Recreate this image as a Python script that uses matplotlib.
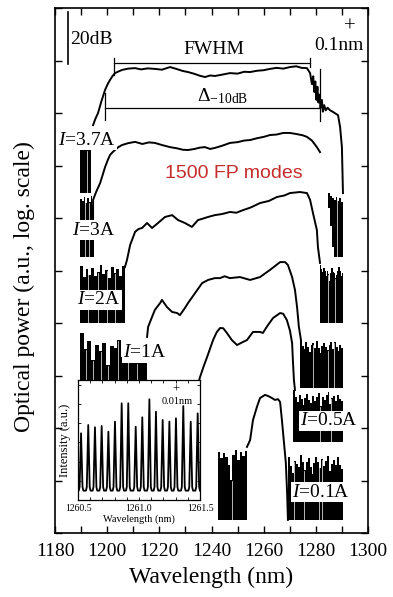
import numpy as np
import matplotlib
matplotlib.use("Agg")
import matplotlib.pyplot as plt
from matplotlib.ticker import MultipleLocator, FormatStrFormatter

plt.rcParams['font.family'] = ['Liberation Serif', 'DejaVu Serif']
plt.rcParams['mathtext.fontset'] = 'custom'
plt.rcParams['mathtext.rm'] = 'Liberation Serif'
plt.rcParams['mathtext.it'] = 'Liberation Serif:italic'

# ---------------- spectra: wavelength (nm) / offset power (dB) ----------------
wl_37 = [1194.6, 1195.5, 1196.5, 1197.8, 1199.2, 1200.2, 1201.1, 1202.0, 1203.0, 1204.3,
         1205.7, 1208.0, 1210.7, 1213.0, 1215.5, 1218.3, 1221.0, 1224.1, 1226.5, 1229.0,
         1231.0, 1233.5, 1235.5, 1237.5, 1239.5, 1241.3, 1244.0, 1247.1, 1250.0, 1252.5,
         1254.8, 1257.5, 1260.0, 1262.4, 1265.0, 1267.5, 1270.1, 1272.5, 1274.5, 1276.6,
         1277.8, 1278.5, 1279.0, 1279.4, 1279.8, 1280.2, 1280.6, 1281.0, 1281.4, 1281.8,
         1282.3, 1282.7, 1283.2, 1283.8, 1284.5, 1285.5, 1286.6, 1287.5, 1288.5, 1289.3,
         1290.0, 1290.4]
p_37 = [155.4, 157.8, 160.0, 164.5, 168.8, 171.0, 172.6, 174.0, 175.2, 175.8,
        176.4, 176.9, 177.1, 176.6, 177.0, 176.8, 176.5, 177.5, 176.8, 176.0,
        175.6, 174.9, 174.2, 173.7, 174.3, 174.1, 174.6, 175.2, 175.0, 175.7,
        175.6, 176.1, 176.3, 176.8, 177.2, 176.9, 177.5, 177.8, 177.2, 177.1,
        175.2, 171.0, 174.0, 168.0, 172.0, 165.0, 170.0, 164.0, 167.0, 162.0,
        165.0, 160.5, 163.0, 161.0, 162.0, 161.0, 160.4, 159.8, 159.2, 154.7,
        147.0, 129.5]

wl_3 = [1194.6, 1194.6, 1195.8, 1197.3, 1198.3, 1199.2, 1200.2, 1201.1, 1202.0, 1203.0,
        1204.3, 1205.7, 1208.0, 1210.7, 1213.5, 1216.0, 1218.3, 1221.0, 1224.1, 1227.0,
        1229.0, 1231.0, 1233.5, 1235.5, 1237.5, 1239.5, 1241.3, 1244.0, 1247.1, 1250.0,
        1252.5, 1254.8, 1257.5, 1260.0, 1262.4, 1265.0, 1267.5, 1270.1, 1272.5, 1275.0,
        1276.6, 1278.5, 1280.4, 1281.6]
p_3 = [120.0, 126.9, 130.0, 133.3, 136.5, 139.4, 142.0, 144.0, 145.0, 145.9,
       147.0, 147.8, 148.5, 149.0, 148.2, 148.8, 148.6, 147.8, 147.0, 146.5,
       146.0, 145.9, 146.3, 146.8, 147.0, 146.3, 146.7, 147.5, 148.6, 148.9,
       149.5, 149.7, 150.4, 150.9, 151.6, 151.8, 152.4, 152.4, 152.0, 151.5,
       150.9, 149.5, 147.0, 145.1]

wl_2 = [1206.8, 1207.6, 1208.8, 1210.7, 1212.0, 1213.4, 1215.3, 1217.2, 1219.5, 1222.2,
        1224.9, 1227.2, 1229.8, 1232.5, 1234.8, 1236.8, 1238.7, 1241.3, 1244.0, 1247.1,
        1249.5, 1252.1, 1255.0, 1258.6, 1262.0, 1265.1, 1268.0, 1270.1, 1273.9, 1276.6,
        1277.8, 1278.9, 1280.4, 1280.8, 1281.6]
p_2 = [101.3, 104.0, 109.7, 114.7, 115.8, 116.2, 118.1, 116.2, 118.1, 120.4,
       121.1, 119.2, 118.1, 116.6, 119.2, 119.8, 120.4, 121.1, 121.5, 122.3,
       122.0, 123.0, 124.0, 125.7, 126.5, 128.0, 128.6, 129.5, 129.9, 129.5,
       126.9, 121.9, 115.4, 109.0, 102.9]

wl_1 = [1215.3, 1215.7, 1217.2, 1218.3, 1220.3, 1221.0, 1222.9, 1224.9, 1226.8, 1227.9,
        1229.8, 1231.0, 1233.7, 1236.4, 1238.7, 1241.3, 1243.3, 1245.0, 1247.1, 1250.9,
        1254.8, 1258.6, 1262.4, 1266.3, 1268.2, 1269.3, 1270.9, 1272.0, 1272.8, 1273.5,
        1274.3]
p_1 = [74.7, 78.5, 82.3, 85.0, 87.6, 88.8, 86.1, 84.2, 83.8, 83.0,
       85.7, 87.6, 91.4, 95.2, 96.4, 97.1, 97.1, 97.8, 97.1, 97.5,
       96.4, 97.5, 100.2, 103.2, 103.2, 102.1, 97.5, 92.6, 86.1, 78.5,
       73.5]

wl_05 = [1233.0, 1235.6, 1237.0, 1238.3, 1240.6, 1242.0, 1243.3, 1244.5, 1245.9, 1247.8,
         1249.8, 1251.5, 1253.6, 1255.9, 1258.6, 1259.7, 1261.5, 1263.6, 1266.3, 1267.5,
         1268.9, 1270.1, 1270.9, 1271.2, 1271.6, 1272.0]
p_05 = [50.0, 59.4, 63.5, 67.0, 73.5, 76.5, 78.1, 78.0, 76.2, 73.5,
        71.6, 72.5, 73.5, 76.6, 76.6, 76.2, 79.0, 81.9, 83.8, 83.5,
        81.1, 77.0, 72.4, 65.9, 58.3, 54.5]

wl_01 = [1253.6, 1254.8, 1255.9, 1257.4, 1258.6, 1260.5, 1261.7, 1263.2, 1264.3, 1265.5,
         1266.3, 1267.0, 1267.8, 1268.5, 1269.0, 1269.3]
p_01 = [32.8, 35.4, 43.0, 48.0, 51.4, 52.6, 52.2, 51.4, 50.7, 51.0,
        49.9, 43.0, 34.3, 26.7, 15.0, 5.0]

# ---------------- noise floors: span (nm), ragged tops (dB), bottom (dB) ----------------
floor_37_left = dict(span=(1189.6, 1193.8), tops=[145.9, 145.9, 145.9, 145.9],
                     bottom=[129.5], gaps=[1192.2])
floor_3_left = dict(span=(1189.6, 1195.0),
                    tops=[127.2, 126.5, 128.0, 125.7, 127.6, 126.1, 128.4, 125.0],
                    bottom=[105.1], gaps=[1191.6, 1193.1])
floor_3_right = dict(span=(1284.7, 1290.4),
                     tops=[129.5, 128.4, 127.6, 126.9, 128.0, 126.5, 127.6, 126.1],
                     bottom=[124.0, 117.0, 109.0, 105.1, 105.1, 105.1, 105.1, 105.1],
                     gaps=[1288.2])
floor_2_left = dict(span=(1189.6, 1206.8),
                    tops=[101.7, 97.5, 100.6, 98.3, 101.0, 97.9, 99.4, 102.1,
                          98.7, 100.2, 97.1, 101.3, 99.0, 100.6, 98.0, 101.7],
                    bottom=[80.0], gaps=[1192.7, 1196.5, 1199.9, 1203.0])
floor_2_right = dict(span=(1281.6, 1290.4),
                     tops=[102.1, 100.6, 99.4, 101.0, 99.9, 97.9, 99.8, 98.6, 96.0, 99.2,
                           101.0, 99.6, 99.0, 97.1, 98.4, 99.8, 101.3, 100.0, 97.9, 99.0],
                     bottom=[80.0], gaps=[1284.7, 1287.5])
floor_1_left = dict(span=(1189.6, 1215.3),
                    tops=[76.2, 70.1, 73.2, 66.0, 71.6, 69.3, 72.4, 64.0, 71.2,
                          70.5, 73.5, 67.0, 70.9, 69.0, 72.0, 65.0, 70.5, 71.8],
                    bottom=[55.2],
                    gaps=[1192.0, 1194.5, 1197.5, 1200.5, 1204.0, 1208.0, 1211.5])
floor_1_right = dict(span=(1273.9, 1290.4),
                     tops=[73.5, 71.2, 70.1, 72.8, 71.0, 69.0, 71.6, 72.2, 70.5, 73.1,
                           70.4, 68.6, 71.2, 72.4, 70.8, 69.7, 71.8, 72.6, 70.1, 72.8,
                           70.9, 69.3, 71.6, 70.6],
                     bottom=[55.2], gaps=[1279.0, 1284.7, 1287.0])
floor_05_right = dict(span=(1271.2, 1290.4),
                      tops=[54.5, 51.9, 50.0, 52.6, 51.2, 48.8, 51.4, 53.0, 50.6, 49.5,
                            52.2, 50.3, 51.7, 53.3, 48.4, 51.8, 50.7, 52.4, 53.7, 49.1,
                            51.5, 52.2, 50.3, 52.6, 51.0, 50.2],
                      bottom=[34.7], gaps=[1281.6, 1286.0])
floor_01_left = dict(span=(1242.5, 1253.6),
                     tops=[31.0, 28.5, 30.5, 29.0, 26.0, 20.2, 29.7, 31.6, 28.0,
                           30.8, 29.3, 31.2],
                     bottom=[5.0], gaps=[1247.9])
floor_01_right = dict(span=(1269.3, 1290.4),
                      tops=[29.0, 25.6, 23.0, 27.5, 26.1, 25.0, 29.7, 27.0, 24.0, 27.0,
                            28.6, 25.3, 22.5, 26.7, 29.0, 27.2, 24.8, 28.2, 25.5, 27.6,
                            29.4, 23.6, 26.4, 27.8, 26.0, 28.9, 25.8, 24.4],
                      bottom=[5.0], gaps=[1271.6, 1275.4, 1281.2, 1282.3])

current_labels = ['3.7A', '3A', '2A', '1A', '0.5A', '0.1A']
label_wl = [1181.2, 1186.5, 1188.4, 1206.1, 1273.9, 1270.9]
label_db = [149.7, 115.4, 88.8, 68.6, 42.7, 15.6]

fwhm_edges = [1202.6, 1277.8]
fwhm_level = 179.0
d10_edges = [1199.2, 1281.6]
d10_level = 161.9

# ---------------- inset: Fabry-Perot modes ----------------
mode_wl = [1260.525, 1260.584, 1260.639, 1260.694, 1260.749, 1260.803, 1260.858,
           1260.912, 1260.973, 1261.027, 1261.085, 1261.139, 1261.194, 1261.249,
           1261.303, 1261.363, 1261.424, 1261.481]
mode_int = [0.556, 0.625, 0.606, 0.617, 0.569, 0.653, 0.806, 0.806, 0.611,
            0.689, 0.839, 0.736, 0.667, 0.653, 0.681, 0.783, 0.653, 0.722]
mode_base = 0.078


def draw_floor(ax, span, tops, bottom, gaps):
    n = len(tops)
    edges = np.linspace(span[0], span[1], n + 1)
    top = np.append(tops, tops[-1])
    bot = np.array(bottom * n if len(bottom) == 1 else bottom, dtype=float)
    bot = np.append(bot, bot[-1])
    ax.fill_between(edges, bot, top, step='post', color='black', lw=0, zorder=2)
    for g in gaps:
        i = min(np.searchsorted(edges, g) - 1, n - 1)
        ax.plot([g, g], [bot[i], top[i] - 0.5], color='white', lw=0.5, zorder=2.2)


fig = plt.figure(figsize=(3.93, 5.97), dpi=100)
ax = fig.add_axes([55 / 393, 1 - 533 / 597, 313 / 393, 525 / 597])
ax.set_xlim(1180, 1300)
ax.set_ylim(0, 200)

for fl in [floor_37_left, floor_3_left, floor_3_right, floor_2_left, floor_2_right,
           floor_1_left, floor_1_right, floor_05_right, floor_01_left, floor_01_right]:
    draw_floor(ax, **fl)

for wl, p in [(wl_37, p_37), (wl_3, p_3), (wl_2, p_2), (wl_1, p_1),
              (wl_05, p_05), (wl_01, p_01)]:
    ax.plot(wl, p, color='black', lw=1.4, zorder=3, solid_joinstyle='round')

for txt, x, y in zip(current_labels, label_wl, label_db):
    ax.text(x, y, r'$I$=' + txt, fontsize=14, ha='left', va='center', zorder=6,
            bbox=dict(facecolor='white', edgecolor='none', pad=1.0))

# FWHM and -10 dB width markers
ax.plot(fwhm_edges, [fwhm_level] * 2, color='black', lw=0.9, zorder=4)
ax.plot([fwhm_edges[0]] * 2, [fwhm_level + 2.0, fwhm_level - 4.5], color='black', lw=0.9)
ax.plot([fwhm_edges[1]] * 2, [fwhm_level + 2.0, fwhm_level - 1.5], color='black', lw=0.9)
ax.plot(d10_edges, [d10_level] * 2, color='black', lw=0.9, zorder=4)
ax.plot([d10_edges[0]] * 2, [d10_level + 5.7, d10_level - 4.6], color='black', lw=0.9)
ax.plot([d10_edges[1]] * 2, [d10_level + 15.0, d10_level - 5.0], color='black', lw=0.9)
ax.text(1241.0, 184.2, 'FWHM', fontsize=14, ha='center', va='center')
ax.text(1234.4, 166.5, r'$\Delta_{\mathrm{-10dB}}$', fontsize=14, ha='left', va='center')

# 20 dB scale bar and 0.1 nm resolution mark
ax.plot([1185.0, 1185.0], [178.5, 198.5], color='black', lw=1.2)
ax.text(1185.8, 188.0, '20dB', fontsize=14, ha='left', va='center')
ax.text(1292.9, 192.6, '+', fontsize=15, ha='center', va='center')
ax.text(1288.9, 185.7, '0.1nm', fontsize=14, ha='center', va='center')

ax.text(1248.6, 136.8, '1500 FP modes', fontsize=14, color='#c62d2d',
        family='Liberation Sans', ha='center', va='center', zorder=6)

ax.xaxis.set_major_locator(MultipleLocator(20))
ax.xaxis.set_minor_locator(MultipleLocator(10))
ax.yaxis.set_major_locator(MultipleLocator(20))
ax.set_yticklabels([])
ax.tick_params(which='both', direction='in', top=True, right=True, length=5, width=1.0,
               labelsize=14, pad=7)
for s in ax.spines.values():
    s.set_linewidth(1.2)
ax.set_xlabel('Wavelength (nm)', fontsize=17)
ax.set_ylabel('Optical power (a.u., log. scale)', fontsize=17)
ax.xaxis.set_label_coords(0.5, -0.065)
ax.yaxis.set_label_coords(-0.064, 0.47)

# inset
ins = fig.add_axes([78 / 393, 1 - 500 / 597, 122 / 393, 120 / 597])
ins.set_xlim(1260.5, 1261.5)
ins.set_ylim(0, 1)
xs, ys = [1260.5], [mode_base]
for c, h in zip(mode_wl, mode_int):
    xs += [c - 0.019, c - 0.012, c - 0.006, c, c + 0.006, c + 0.012, c + 0.019]
    ys += [mode_base, mode_base + 0.03, mode_base + 0.55 * (h - mode_base), h,
           mode_base + 0.55 * (h - mode_base), mode_base + 0.03, mode_base]
xs.append(1261.5)
ys.append(mode_base)
ins.plot(xs, ys, color='black', lw=1.3)
ins.xaxis.set_major_locator(MultipleLocator(0.5))
ins.xaxis.set_minor_locator(MultipleLocator(0.1))
ins.xaxis.set_major_formatter(FormatStrFormatter('%.1f'))
ins.set_yticks(np.arange(0.16, 1.0, 0.16))
ins.set_yticklabels([])
ins.tick_params(which='both', direction='in', top=True, right=True, length=2.5,
                width=0.6, labelsize=7, pad=3)
for s in ins.spines.values():
    s.set_linewidth(0.9)
ins.set_xlabel('Wavelength (nm)', fontsize=7.5, labelpad=1)
ins.set_ylabel('Intensity (a.u.)', fontsize=9, labelpad=2)
ins.text(1261.303, 0.921, '+', fontsize=9, ha='center', va='center')
ins.text(1261.316, 0.821, '0.01nm', fontsize=7.5, ha='center', va='center')

fig.savefig('out.png', dpi=100)
